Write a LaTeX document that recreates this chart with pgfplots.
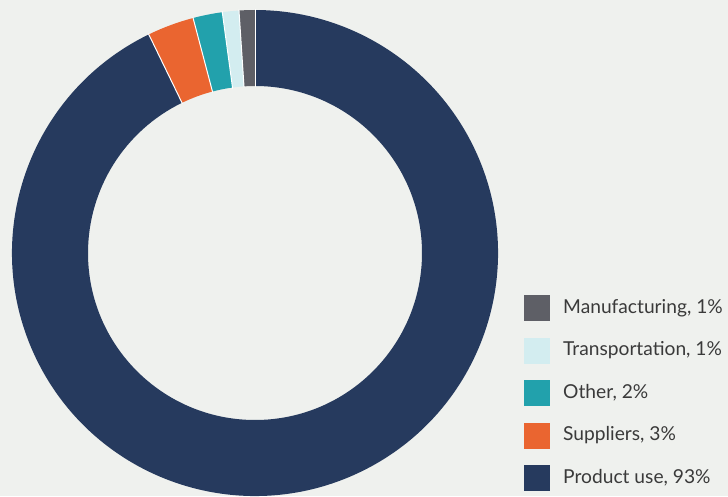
\documentclass[border=0pt]{standalone}
\usepackage{pgfplots}
\usepackage{pgfplotstable}
\pgfplotsset{compat=1.18}
\usepackage{fontspec}
\setmainfont{Lato}
\definecolor{bg}{HTML}{EFF1EE}
\definecolor{cman}{HTML}{5E5F66}
\definecolor{ctra}{HTML}{D3EDF0}
\definecolor{coth}{HTML}{22A1AC}
\definecolor{csup}{HTML}{EA6530}
\definecolor{cpro}{HTML}{263A5E}
\definecolor{txt}{HTML}{3A3A3A}

\pgfplotstableread[col sep=semicolon]{
label;value;col
Manufacturing, 1\%;1.05;cman
Transportation, 1\%;1.1;ctra
Other, 2\%;1.95;coth
Suppliers, 3\%;3.1;csup
Product use, 93\%;92.8;cpro
}\data

\begin{document}
\begin{tikzpicture}
\begin{axis}[
  name=ax,
  width=728pt, height=496pt, scale only axis,
  xmin=0, xmax=728, ymin=0, ymax=496,
  axis lines=none, ticks=none, clip=false,
]
\fill[bg] (axis cs:0,0) rectangle (axis cs:728,496);
\def\astart{90}
\pgfplotsforeachungrouped \i in {0,...,4}{%
  \pgfplotstablegetelem{\i}{value}\of\data \let\val\pgfplotsretval
  \pgfplotstablegetelem{\i}{col}\of\data \let\col\pgfplotsretval
  \pgfplotstablegetelem{\i}{label}\of\data \let\lab\pgfplotsretval
  \pgfmathsetmacro\aend{\astart+3.6*\val}%
  \pgfmathsetmacro\ly{188-42.5*\i}%
  \edef\cmd{%
    \noexpand\fill[\col] (axis cs:{255+243*cos(\astart)},{243+243*sin(\astart)})
      arc[start angle=\astart, end angle=\aend, radius=243pt]
      -- (axis cs:{255+167*cos(\aend)},{243+167*sin(\aend)})
      arc[start angle=\aend, end angle=\astart, radius=167pt] -- cycle;
    \noexpand\fill[\col] (axis cs:524,{\ly-13}) rectangle (axis cs:550,{\ly+13});
    \noexpand\node[anchor=west, inner sep=0pt, text=txt, font=\noexpand\fontsize{19.2}{23}\noexpand\selectfont]
      at (axis cs:563,\ly) {\unexpanded\expandafter{\lab}};
  }%
  \cmd
  \global\let\astart\aend
}
\def\astart{90}
\pgfplotsforeachungrouped \i in {0,...,4}{%
  \pgfplotstablegetelem{\i}{value}\of\data \let\val\pgfplotsretval
  \pgfmathsetmacro\aend{\astart+3.6*\val}%
  \edef\cmd{%
    \noexpand\draw[white, line width=1pt] (axis cs:{255+166*cos(\astart)},{243+166*sin(\astart)})
      -- (axis cs:{255+244*cos(\astart)},{243+244*sin(\astart)});
  }%
  \cmd
  \global\let\astart\aend
}
\end{axis}
\pgfresetboundingbox
\path[use as bounding box] (ax.south west) rectangle (ax.north east);
\end{tikzpicture}
\end{document}
